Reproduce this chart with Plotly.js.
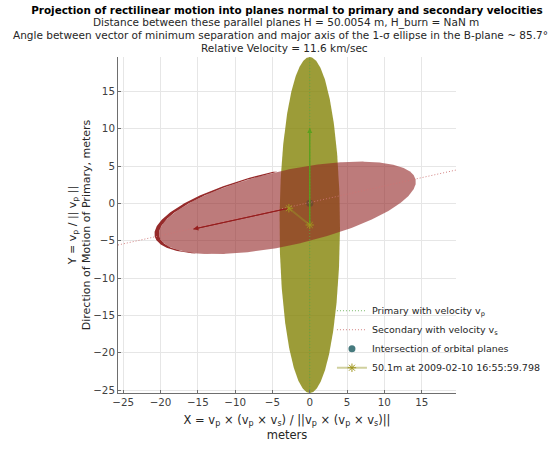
<!DOCTYPE html>
<html>
<head>
<meta charset="utf-8">
<script src="https://cdn.plot.ly/plotly-3.0.1.min.js"></script>
<style>html,body{margin:0;padding:0;background:#fff;}#chart{width:555px;height:450px;}</style>
</head>
<body>
<div id="chart"></div>
<script>
// ---- data ----
const titleLines = [
  'Projection of rectilinear motion into planes normal to primary and secondary velocities',
  'Distance between these parallel planes H = 50.0054 m, H_burn = NaN m',
  'Angle between vector of minimum separation and major axis of the 1-\u03C3 ellipse in the B-plane ~ 85.7\u00B0',
  'Relative Velocity = 11.6 km/sec'
];
const xTickVals = [-25, -20, -15, -10, -5, 0, 5, 10, 15];
const yTickVals = [-25, -20, -15, -10, -5, 0, 5, 10, 15];
const xRange = [-25.7, 19.6];
const yRange = [-25.4, 19.6];

// covariance ellipses: [primary, secondary]
const ellipseCenterX = [0, -3.0];
const ellipseCenterY = [-2.9, -0.6];
const ellipseSemiMajor = [22.5, 17.6];
const ellipseSemiMinor = [4.05, 5.0];
const ellipseAngleDeg = [90, 12.5];
const secondaryEdgeOffset = [-0.6, 0.0];

// positions and velocity directions
const primaryPos = [0, -2.9];
const secondaryPos = [-2.8, -0.65];
const primaryVelTip = [0, 10.1];
const secondaryVelTip = [-15.6, -3.45];
const primaryLineX = [0, 0];
const primaryLineY = [-25.4, 19.6];
const secondaryLineX = [-25.7, 19.6];
const secondaryLineY = [-5.58, 4.46];
const intersectionX = [0];
const intersectionY = [0];
const legendNames = [
  'Primary with velocity v<sub>p</sub>',
  'Secondary with velocity v<sub>s</sub>',
  'Intersection of orbital planes',
  '50.1m at 2009-02-10 16:55:59.798'
];

// ---- geometry helpers ----
function ellipsePts(cx, cy, a, b, angDeg, n) {
  const phi = angDeg * Math.PI / 180, xs = [], ys = [];
  for (let i = 0; i <= n; i++) {
    const t = 2 * Math.PI * i / n;
    xs.push(cx + a * Math.cos(t) * Math.cos(phi) - b * Math.sin(t) * Math.sin(phi));
    ys.push(cy + a * Math.cos(t) * Math.sin(phi) + b * Math.sin(t) * Math.cos(phi));
  }
  return {x: xs, y: ys};
}
function inside(px, py, cx, cy, a, b, angDeg) {
  const phi = angDeg * Math.PI / 180;
  const dx = px - cx, dy = py - cy;
  const u = dx * Math.cos(phi) + dy * Math.sin(phi);
  const v = -dx * Math.sin(phi) + dy * Math.cos(phi);
  return (u * u) / (a * a) + (v * v) / (b * b) < 1;
}

const N = 500;
const pE = ellipsePts(ellipseCenterX[0], ellipseCenterY[0], ellipseSemiMajor[0], ellipseSemiMinor[0], ellipseAngleDeg[0], N);
const sE = ellipsePts(ellipseCenterX[1], ellipseCenterY[1], ellipseSemiMajor[1], ellipseSemiMinor[1], ellipseAngleDeg[1], N);
const dcx = ellipseCenterX[1] + secondaryEdgeOffset[0], dcy = ellipseCenterY[1] + secondaryEdgeOffset[1];
const dE = ellipsePts(dcx, dcy, ellipseSemiMajor[1], ellipseSemiMinor[1], ellipseAngleDeg[1], N);
// crescent = offset ellipse minus main secondary ellipse (left side only)
const cx_ = [], cy_ = [];
for (let i = 0; i <= N; i++) {
  const t = 2 * Math.PI * i / N;
  if (t > Math.PI / 2 && t < 3 * Math.PI / 2 &&
      !inside(dE.x[i], dE.y[i], ellipseCenterX[1], ellipseCenterY[1], ellipseSemiMajor[1], ellipseSemiMinor[1], ellipseAngleDeg[1])) {
    cx_.push(dE.x[i]); cy_.push(dE.y[i]);
  }
}
for (let i = N; i >= 0; i--) {
  const t = 2 * Math.PI * i / N;
  if (t > Math.PI / 2 && t < 3 * Math.PI / 2 &&
      inside(sE.x[i], sE.y[i], dcx, dcy, ellipseSemiMajor[1], ellipseSemiMinor[1], ellipseAngleDeg[1])) {
    cx_.push(sE.x[i]); cy_.push(sE.y[i]);
  }
}

const traces = [
  {x: intersectionX, y: intersectionY, type: 'scatter', mode: 'markers', name: legendNames[2], legendrank: 3,
   marker: {symbol: 'circle', size: 7, color: 'rgb(70,122,126)'}},
  {x: pE.x, y: pE.y, type: 'scatter', mode: 'lines', fill: 'toself', fillcolor: 'rgba(128,128,0,0.78)',
   line: {width: 0, color: 'rgba(0,0,0,0)'}, showlegend: false, hoverinfo: 'skip'},
  {x: cx_, y: cy_, type: 'scatter', mode: 'lines', fill: 'toself', fillcolor: 'rgb(150,42,42)',
   line: {width: 0, color: 'rgba(0,0,0,0)'}, showlegend: false, hoverinfo: 'skip'},
  {x: sE.x, y: sE.y, type: 'scatter', mode: 'lines', fill: 'toself', fillcolor: 'rgba(145,35,35,0.6)',
   line: {width: 0, color: 'rgba(0,0,0,0)'}, showlegend: false, hoverinfo: 'skip'},
  {x: intersectionX, y: intersectionY, type: 'scatter', mode: 'markers', showlegend: false, hoverinfo: 'skip',
   marker: {symbol: 'circle', size: 7, color: 'rgba(80,80,80,0.35)'}},
  {x: primaryLineX, y: primaryLineY, type: 'scatter', mode: 'lines', name: legendNames[0], legendrank: 1,
   line: {color: 'rgba(90,170,70,0.8)', width: 1, dash: '1px,2px'}},
  {x: secondaryLineX, y: secondaryLineY, type: 'scatter', mode: 'lines', name: legendNames[1], legendrank: 2,
   line: {color: 'rgba(205,115,115,0.9)', width: 1, dash: '1px,2px'}},
  {x: [primaryPos[0], primaryVelTip[0]], y: [primaryPos[1], primaryVelTip[1]], type: 'scatter', mode: 'lines',
   line: {color: 'rgba(80,160,30,0.85)', width: 1}, showlegend: false, hoverinfo: 'skip'},
  {x: [secondaryPos[0], secondaryVelTip[0]], y: [secondaryPos[1], secondaryVelTip[1]], type: 'scatter', mode: 'lines',
   line: {color: 'rgb(150,30,30)', width: 1}, showlegend: false, hoverinfo: 'skip'},
  {x: [secondaryPos[0], primaryPos[0]], y: [secondaryPos[1], primaryPos[1]], type: 'scatter', mode: 'lines+markers',
   name: legendNames[3], legendrank: 4,
   line: {color: 'rgba(150,150,40,0.45)', width: 2},
   marker: {symbol: 'asterisk-open', size: 7, color: 'rgb(160,150,30)', line: {width: 1, color: 'rgb(160,150,30)'}}}
];

const annotations = [
  {x: primaryVelTip[0], y: primaryVelTip[1], ax: primaryPos[0], ay: primaryPos[1], xref: 'x', yref: 'y',
   axref: 'x', ayref: 'y', text: '', showarrow: true, arrowhead: 2, arrowsize: 1, arrowwidth: 1, arrowcolor: 'rgb(90,160,30)'},
  {x: secondaryVelTip[0], y: secondaryVelTip[1], ax: secondaryPos[0], ay: secondaryPos[1], xref: 'x', yref: 'y',
   axref: 'x', ayref: 'y', text: '', showarrow: true, arrowhead: 2, arrowsize: 1, arrowwidth: 1, arrowcolor: 'rgb(150,30,30)'}
];
const titleYpx = [22.5, 35, 47.5];
const titleXpx = [286, 280, 284];
for (let i = 1; i < titleLines.length; i++) {
  annotations.push({text: titleLines[i], xref: 'paper', yref: 'paper',
    x: (titleXpx[i - 1] - 118) / 338, y: (393 - titleYpx[i - 1]) / 336,
    xanchor: 'center', yanchor: 'middle', showarrow: false, font: {family: 'DejaVu Sans', size: 10.5, color: '#262626'}});
}

const axisCommon = {
  showgrid: true, gridcolor: '#e6e6e6', gridwidth: 1, zeroline: false,
  showline: true, linecolor: '#6e6e6e', linewidth: 1,
  ticks: 'inside', ticklen: 3, tickcolor: '#6e6e6e',
  tickfont: {family: 'DejaVu Sans', size: 10.3, color: '#404040'}, tickmode: 'array'
};

const layout = {
  width: 555, height: 450,
  margin: {l: 118, r: 99, t: 57, b: 57, autoexpand: false},
  paper_bgcolor: '#ffffff', plot_bgcolor: '#ffffff',
  font: {family: 'DejaVu Sans', color: '#262626'},
  title: {text: '<b>' + titleLines[0] + '</b>', x: 0.5, xref: 'paper', xanchor: 'center',
          y: 1 - 10 / 450, yref: 'container', yanchor: 'middle', font: {family: 'DejaVu Sans', size: 10.4, color: '#000'}},
  xaxis: Object.assign({}, axisCommon, {range: xRange, tickvals: xTickVals,
    title: {text: 'X = v<sub>p</sub> \u00D7 (v<sub>p</sub> \u00D7 v<sub>s</sub>) / ||v<sub>p</sub> \u00D7 (v<sub>p</sub> \u00D7 v<sub>s</sub>)||<br>meters',
            font: {family: 'DejaVu Sans', size: 11.5, color: '#262626'}, standoff: 8}}),
  yaxis: Object.assign({}, axisCommon, {range: yRange, tickvals: yTickVals,
    title: {text: 'Y = v<sub>p</sub> / || v<sub>p</sub> ||<br>Direction of Motion of Primary, meters',
            font: {family: 'DejaVu Sans', size: 11, color: '#262626'}, standoff: 0}}),
  showlegend: true,
  legend: {x: 0.633, y: 0.288, xanchor: 'left', yanchor: 'top', bgcolor: 'rgba(0,0,0,0)', borderwidth: 0,
           font: {family: 'DejaVu Sans', size: 9.5, color: '#262626'}, tracegroupgap: 0},
  annotations: annotations
};

Plotly.newPlot('chart', traces, layout, {displayModeBar: false, staticPlot: true});
</script>
</body>
</html>
